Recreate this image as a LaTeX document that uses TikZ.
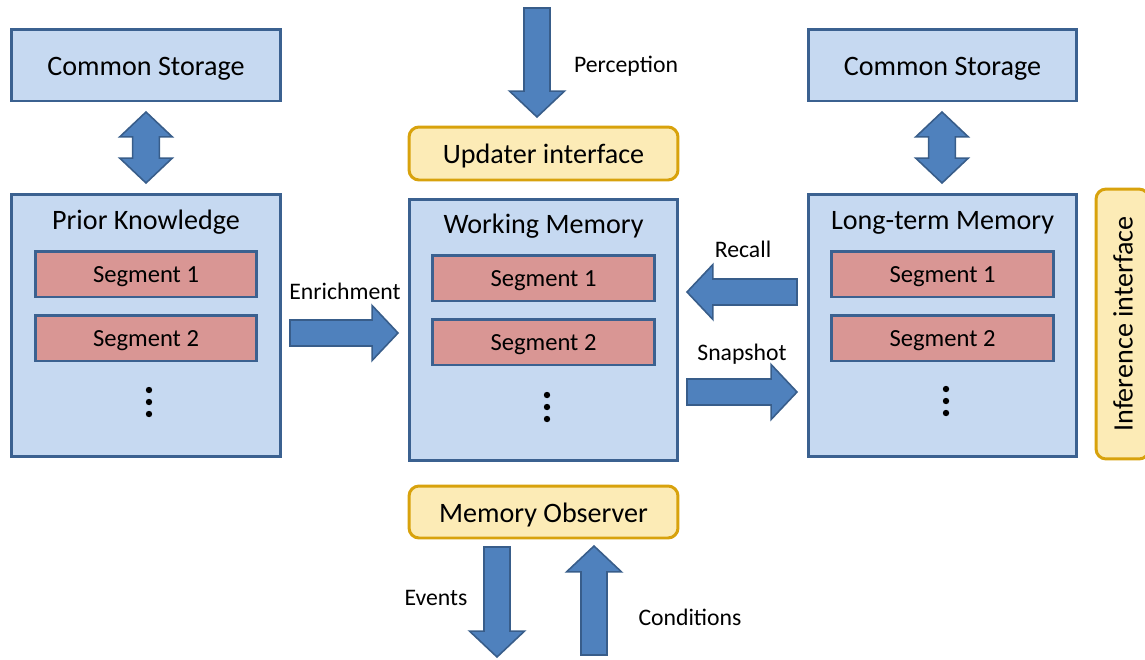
\documentclass[tikz,border=0pt]{standalone}
\usepackage{fontspec}
\setmainfont{Carlito}
\usepackage{tikz}
\usetikzlibrary{calc}

\definecolor{boxfill}{HTML}{C6D9F1}
\definecolor{boxline}{HTML}{3B6190}
\definecolor{segfill}{HTML}{D99694}
\definecolor{yelfill}{HTML}{FCEBB6}
\definecolor{yelline}{HTML}{D8A20C}
\definecolor{arrfill}{HTML}{4F81BD}
\definecolor{arrline}{HTML}{385D8A}

\tikzset{
  bigbox/.style={draw=boxline, fill=boxfill, line width=1.7pt, inner sep=0pt},
  segbox/.style={draw=boxline, fill=segfill, line width=1.7pt, inner sep=0pt,
    text height=10pt, text depth=0pt,
    minimum width=4.44cm, minimum height=0.92cm, font=\fontsize{14}{16}\selectfont},
  ifbox/.style={draw=yelline, fill=yelfill, line width=1.7pt, rounded corners=0.2cm,
    text height=11.4pt, text depth=0pt,
    inner sep=0pt, minimum width=5.38cm, minimum height=1.06cm, font=\fontsize{16}{19}\selectfont},
  title/.style={inner sep=0pt, text height=11.4pt, text depth=0pt, font=\fontsize{16}{19}\selectfont},
  lbl/.style={inner sep=0pt, text height=9.6pt, text depth=0pt, font=\fontsize{13.5}{16}\selectfont},
  blk/.style={draw=arrline, fill=arrfill, line width=0.9pt, line join=miter}
}

% block arrow from #1 to #2
\newcommand{\blockarrow}[2]{%
  \coordinate (hb) at ($(#2)!14.7pt!(#1)$);
  \draw[blk] ($(#1)!7.4pt!90:(#2)$) -- ($(hb)!7.4pt!90:(#2)$) -- ($(hb)!15.6pt!90:(#2)$)
    -- (#2) -- ($(hb)!15.6pt!-90:(#2)$) -- ($(hb)!7.4pt!-90:(#2)$)
    -- ($(#1)!7.4pt!-90:(#2)$) -- cycle;
}
% double block arrow between #1 and #2
\newcommand{\dblarrow}[2]{%
  \coordinate (ha) at ($(#1)!14.2pt!(#2)$);
  \coordinate (hb) at ($(#2)!14.2pt!(#1)$);
  \draw[blk] (#1) -- ($(ha)!15pt!90:(#2)$) -- ($(ha)!7.6pt!90:(#2)$) -- ($(hb)!7.6pt!90:(#2)$)
    -- ($(hb)!15pt!90:(#2)$) -- (#2) -- ($(hb)!15pt!-90:(#2)$) -- ($(hb)!7.6pt!-90:(#2)$)
    -- ($(ha)!7.6pt!-90:(#2)$) -- ($(ha)!15pt!-90:(#2)$) -- cycle;
}

\begin{document}
\begin{tikzpicture}[x=0.02cm, y=-0.02cm]
  \useasboundingbox (0,0) rectangle (1145,659);

  % storages
  \node[bigbox, minimum width=5.4cm, minimum height=1.44cm, title] (csl) at (146,65) {Common Storage};
  \node[bigbox, minimum width=5.38cm, minimum height=1.44cm, title] (csr) at (942.5,65) {Common Storage};

  % memories
  \node[bigbox, minimum width=5.4cm, minimum height=5.26cm] (pk) at (146,325.5) {};
  \node[title] (pkt) at (146,219) {Prior Knowledge};
  \node[segbox] (pks1) at (146,274) {Segment 1};
  \node[segbox] (pks2) at (146,338) {Segment 2};

  \node[bigbox, minimum width=5.38cm, minimum height=5.24cm] (wm) at (543.5,330) {};
  \node[title] (wmt) at (543.5,223) {Working Memory};
  \node[segbox] (wms1) at (543.5,278) {Segment 1};
  \node[segbox] (wms2) at (543.5,342) {Segment 2};

  \node[bigbox, minimum width=5.38cm, minimum height=5.26cm] (ltm) at (942.5,325.5) {};
  \node[title] (ltmt) at (942.5,219) {Long-term Memory};
  \node[segbox] (ltms1) at (942.5,274) {Segment 1};
  \node[segbox] (ltms2) at (942.5,338) {Segment 2};

  % dots
  \foreach \x/\y in {149/390, 547/395, 946/389} {
    \foreach \d in {0,12,24}
      \fill (\x,\y+\d) circle (3.2);
  }

  % interfaces
  \node[ifbox] (upd) at (543.5,153.5) {Updater interface};
  \node[ifbox, minimum height=1.04cm] (obs) at (543.5,512) {Memory Observer};
  \node[ifbox, minimum width=5.4cm, rotate=90] (inf) at (1122.5,324) {Inference interface};

  % arrow ends
  \coordinate (cslA) at (146,112);  \coordinate (cslB) at (146,183);
  \coordinate (csrA) at (942,112);  \coordinate (csrB) at (942,183);
  \coordinate (perA) at (537,8);    \coordinate (perB) at (537,117);
  \coordinate (enrA) at (290,333);  \coordinate (enrB) at (398,333);
  \coordinate (recA) at (797,292);  \coordinate (recB) at (687,292);
  \coordinate (snpA) at (687,392);  \coordinate (snpB) at (797,392);
  \coordinate (evtA) at (497,547);  \coordinate (evtB) at (497,657);
  \coordinate (conA) at (594,655);  \coordinate (conB) at (594,546);

  \dblarrow{cslA}{cslB}
  \dblarrow{csrA}{csrB}
  \blockarrow{perA}{perB}
  \blockarrow{enrA}{enrB}
  \blockarrow{recA}{recB}
  \blockarrow{snpA}{snpB}
  \blockarrow{evtA}{evtB}
  \blockarrow{conA}{conB}

  % labels
  \node[lbl] (perl) at (626,64) {Perception};
  \node[lbl] (enrl) at (345,291) {Enrichment};
  \node[lbl] (recl) at (743,249) {Recall};
  \node[lbl] (snpl) at (742,352) {Snapshot};
  \node[lbl] (evtl) at (436,597) {Events};
  \node[lbl] (conl) at (690,617) {Conditions};
\end{tikzpicture}
\end{document}
